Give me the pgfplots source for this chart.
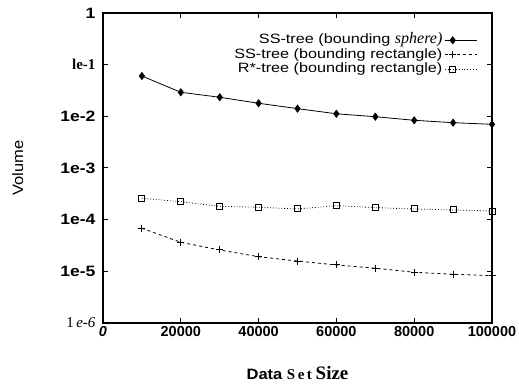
\documentclass[border=0pt]{standalone}
\usepackage{fontspec}
\setmainfont{Liberation Serif}
\setsansfont{Liberation Sans}[FakeStretch=1.1]
\newfontfamily\legfont{Liberation Sans}[FakeStretch=1.2]
\newfontfamily\tickfont{Liberation Sans}[FakeStretch=1.17]
\newfontfamily\xtickfont{Liberation Sans}
\usepackage{pgfplots}
\pgfplotsset{compat=1.18}
\begin{document}
\begin{tikzpicture}
\begin{axis}[
  scale only axis, width=389pt, height=310pt,
  ymode=log, ymin=1e-6, ymax=1, xmin=0, xmax=100000,
  xtick={0,20000,40000,60000,80000,100000},
  xticklabels={\textit{0},20000,40000,60000,80000,100000},
  scaled x ticks=false,
  ytick={1e-6,1e-5,1e-4,1e-3,1e-2,1e-1,1},
  yticklabels={{\rmfamily\mdseries 1\,\textit{e-6}},1e-5,1e-4,1e-3,1e-2,{\rmfamily le-1},1},
  yminorticks=false,
  tick align=inside, major tick length=5pt,
  tick style={line width=1pt, black},
  yticklabel style={xshift=-4pt, font=\tickfont\bfseries\fontsize{15}{15}\selectfont},
  xticklabel style={font=\xtickfont\bfseries\fontsize{14.5}{14.5}\selectfont},
  axis line style={line width=1.3pt},
  xlabel={\sffamily\bfseries Data \rmfamily S\,e\,t \fontsize{19}{19}\selectfont Size},
  xlabel style={at={(axis description cs:0.5,-0.161)}, anchor=center, font=\fontsize{15}{15}\selectfont},
  ylabel={Volume},
  ylabel style={at={(axis description cs:-0.219,0.5)}, anchor=center, rotate=0, font=\sffamily\fontsize{15}{15}\selectfont},
  legend cell align=right, legend plot pos=right,
  legend style={at={(rel axis cs:0.97,0.94)}, anchor=north east, draw=none, fill=none,
    font=\legfont\fontsize{13.5}{13.5}\selectfont, row sep=1.5pt,
    nodes={inner xsep=2pt, inner ysep=0pt, text height=10pt, text depth=3pt}},
  legend image code/.code={\draw[mark repeat=2,mark phase=2] plot coordinates {(0pt,0pt)(8pt,0pt)(32pt,0pt)};},
]
\addplot[black, line width=0.8pt, mark=diamond*, mark size=3.5pt, mark options={solid}] coordinates {
(10000,0.0604) (20000,0.0292) (30000,0.0234) (40000,0.0179) (50000,0.0141)
(60000,0.0112) (70000,0.00984) (80000,0.00838) (90000,0.00753) (100000,0.00701)};
\addlegendentry{SS-tree (bounding {\rmfamily\itshape\fontsize{16}{16}\selectfont sphere)}}
\addplot[black, line width=0.8pt, dashed, mark=+, mark size=3.5pt, mark options={solid, line width=1pt}] coordinates {
(10000,6.81e-5) (20000,3.65e-5) (30000,2.59e-5) (40000,1.92e-5) (50000,1.58e-5)
(60000,1.33e-5) (70000,1.15e-5) (80000,9.6e-6) (90000,8.77e-6) (100000,8.24e-6)};
\addlegendentry{SS-tree (bounding rectangle)}
\addplot[black, line width=0.8pt, dotted, mark=square, mark size=3pt, mark options={solid, line width=1pt}] coordinates {
(10000,2.59e-4) (20000,2.23e-4) (30000,1.81e-4) (40000,1.74e-4) (50000,1.61e-4)
(60000,1.87e-4) (70000,1.71e-4) (80000,1.61e-4) (90000,1.54e-4) (100000,1.47e-4)};
\addlegendentry{R*-tree (bounding rectangle)}
\end{axis}
\pgfresetboundingbox
\path ([shift={(-103pt,-61pt)}]current axis.south west) rectangle ([shift={(27pt,13pt)}]current axis.north east);
\end{tikzpicture}
\end{document}
